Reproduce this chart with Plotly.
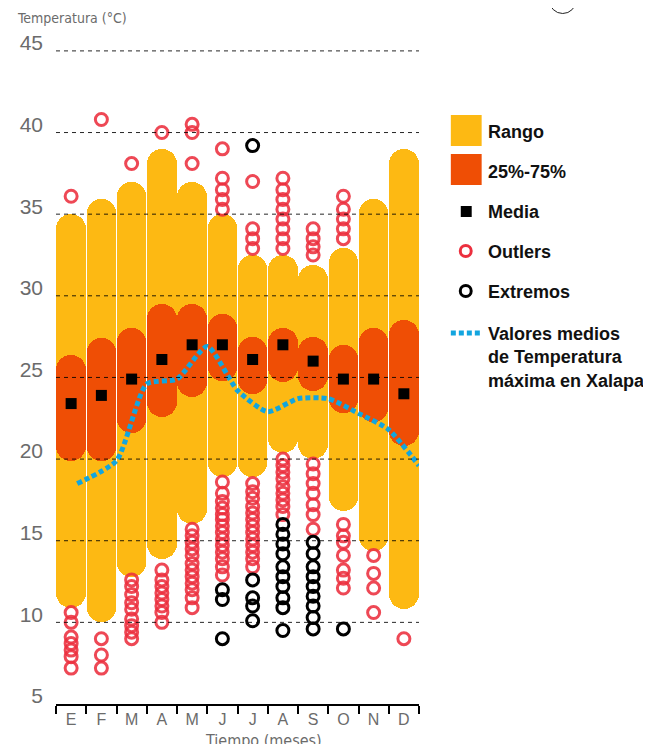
import plotly.graph_objects as go

# --- data -----------------------------------------------------------------
meses = ["E", "F", "M", "A", "M", "J", "J", "A", "S", "O", "N", "D"]

rango_min = [10.9, 10.0, 12.8, 13.9, 16.0, 18.9, 18.9, 20.4, 20.0, 16.8, 14.4, 10.8]
rango_max = [35.0, 35.9, 37.0, 39.0, 37.0, 35.0, 32.5, 32.5, 31.9, 32.9, 35.9, 39.0]

q25 = [19.9, 19.9, 21.6, 22.6, 23.8, 24.8, 24.0, 24.7, 24.2, 22.8, 22.3, 20.8]
q75 = [26.4, 27.4, 28.0, 29.5, 29.5, 28.9, 27.5, 28.0, 27.5, 27.0, 28.0, 28.5]

media = [23.4, 23.9, 24.9, 26.1, 27.0, 27.0, 26.1, 27.0, 26.0, 24.9, 24.9, 24.0]

outliers = [
    [36.1, 10.6, 10.0, 9.1, 8.7, 8.3, 7.9, 7.2],
    [40.8, 9.0, 8.0, 7.2],
    [38.1, 12.6, 12.2, 11.7, 11.2, 10.8, 10.2, 9.8, 9.4, 9.0],
    [40.0, 13.2, 12.6, 12.2, 11.8, 11.4, 11.0, 10.6, 10.0],
    [40.5, 40.0, 38.1, 15.7, 15.3, 14.9, 14.5, 14.1, 13.6, 13.2, 12.8, 12.4, 12.0, 11.5, 10.9],
    [39.0, 37.2, 36.5, 35.9, 35.3, 18.6, 17.9, 17.4, 17.0, 16.6, 16.3, 15.9, 15.5, 15.1,
     14.7, 14.3, 13.9, 13.4, 12.9],
    [37.0, 34.1, 33.5, 32.9, 18.5, 18.0, 17.6, 17.1, 16.7, 16.3, 15.9, 15.5, 15.1, 14.7,
     14.3, 13.9, 13.4],
    [37.2, 36.5, 35.9, 35.3, 34.7, 34.1, 33.5, 32.9, 20.0, 19.6, 19.2, 18.8, 18.3, 17.9,
     17.5, 17.1, 16.6],
    [34.1, 33.5, 33.0, 32.5, 19.7, 19.1, 18.5, 17.9, 17.2, 16.6, 15.7],
    [36.1, 35.3, 34.7, 34.1, 33.5, 16.0, 15.3, 14.9, 14.1, 13.2, 12.7, 12.1],
    [14.1, 13.0, 12.1, 10.6],
    [9.0],
]

extremos = [
    [], [], [], [], [],
    [12.0, 11.4, 9.0],
    [39.2, 12.6, 11.5, 11.0, 10.1],
    [16.0, 15.4, 14.8, 14.2, 13.4, 12.8, 12.2, 11.5, 10.9, 9.5],
    [14.9, 14.2, 13.4, 12.8, 12.2, 11.6, 11.0, 10.3, 9.6],
    [9.6],
    [], [],
]

# valores medios de temperatura maxima en Xalapa
medios_pos = [0.2, 1.5, 2.5, 3.5, 4.5, 5.5, 6.5, 7.5, 8.5, 9.5, 10.5, 11.5]
medios = [18.5, 19.9, 24.6, 24.9, 26.9, 24.2, 22.9, 23.7, 23.7, 22.8, 21.8, 19.6]

y_ticks = [5, 10, 15, 20, 25, 30, 35, 40, 45]

# --- styles ---------------------------------------------------------------
AMARILLO = "#FDB913"
NARANJA = "#EF4E05"
ROJO = "#EC2F3E"
AZUL = "#12A5DF"
GRIS = "#6b6b6b"
FONT = "Liberation Sans, Arial, sans-serif"
NARROW = "Liberation Sans Narrow, DejaVu Sans Condensed, Arial Narrow, sans-serif"

# the page body adds an 8px margin, so the figure is drawn 8px smaller
OFF = 8
W, H = 651 - OFF, 744 - OFF
# plot box in screen pixels
L, R, T, B = 54, 419, 46, 704


def px(x):
    return (x - L) / (R - L)


def py(y):
    return (B - y) / (B - T)


idx = list(range(len(meses)))
fig = go.Figure()

# capsules: bars with a base get both ends rounded
fig.add_trace(go.Bar(
    x=idx, y=[h - l for h, l in zip(rango_max, rango_min)], base=rango_min,
    width=0.98, marker=dict(color=AMARILLO, line_width=0, cornerradius="50%"),
    showlegend=False, hoverinfo="skip"))
fig.add_trace(go.Bar(
    x=idx, y=[h - l for h, l in zip(q75, q25)], base=q25,
    width=0.98, marker=dict(color=NARANJA, line_width=0, cornerradius="50%"),
    showlegend=False, hoverinfo="skip"))

# outliers / extremos
ox, oy = [], []
for i, vals in enumerate(outliers):
    ox += [i] * len(vals)
    oy += vals
ex, ey = [], []
for i, vals in enumerate(extremos):
    ex += [i] * len(vals)
    ey += vals

fig.add_trace(go.Scatter(
    x=ox, y=oy, mode="markers",
    marker=dict(symbol="circle-open", size=12, color=ROJO, opacity=0.88,
                line=dict(width=3, color=ROJO)),
    showlegend=False))
fig.add_trace(go.Scatter(
    x=ex, y=ey, mode="markers",
    marker=dict(symbol="circle-open", size=12, color="black",
                line=dict(width=3, color="black")),
    showlegend=False))

fig.add_trace(go.Scatter(
    x=idx, y=media, mode="markers",
    marker=dict(symbol="square", size=11, color="black", line_width=0),
    showlegend=False))

fig.add_trace(go.Scatter(
    x=medios_pos, y=medios, mode="lines",
    line=dict(color=AZUL, width=5, dash="5px,3px", shape="spline", smoothing=0.6),
    showlegend=False))

# dashed grid drawn over the bars
for v in y_ticks[1:]:
    fig.add_shape(type="line", xref="x", yref="y", x0=-0.5, x1=11.5, y0=v, y1=v,
                  line=dict(color="rgba(0,0,0,0.85)", width=1, dash="4px,4px"),
                  layer="above")


# --- legend (drawn by hand) ---------------------------------------------
def rect(x0, y0, x1, y1, color):
    fig.add_shape(type="rect", xref="paper", yref="paper",
                  x0=px(x0), x1=px(x1), y0=py(y1), y1=py(y0),
                  fillcolor=color, line_width=0)


def ring(cx, cy, color):
    fig.add_shape(type="circle", xref="paper", yref="paper",
                  x0=px(cx - 5.5), x1=px(cx + 5.5), y0=py(cy + 5.5), y1=py(cy - 5.5),
                  line=dict(color=color, width=3))


rect(451, 115, 482, 146, AMARILLO)
rect(451, 154, 482, 185, NARANJA)
rect(461, 206, 472, 217, "black")
ring(466, 251, ROJO)
ring(466, 291, "black")
fig.add_shape(type="line", xref="paper", yref="paper",
              x0=px(451), x1=px(481), y0=py(333), y1=py(333),
              line=dict(color=AZUL, width=5, dash="5px,3px"))

legend_items = [("Rango", 132), ("25%-75%", 172), ("Media", 212),
                ("Outlers", 252), ("Extremos", 292)]
for txt, yy in legend_items:
    fig.add_annotation(text=f"<b>{txt}</b>", xref="paper", yref="paper",
                       x=px(486), y=py(yy), xanchor="left", yanchor="middle",
                       showarrow=False, font=dict(family=FONT, size=18, color="#111"))
fig.add_annotation(
    text="<b>Valores medios<br>de Temperatura<br>máxima en Xalapa</b>",
    xref="paper", yref="paper", x=px(486), y=py(358), xanchor="left",
    yanchor="middle", align="left", showarrow=False,
    font=dict(family=FONT, size=18, color="#111"))

# axis titles
fig.add_annotation(text="Temperatura (°C)", xref="paper", yref="paper",
                   x=px(13), y=py(18), xanchor="left", yanchor="middle",
                   showarrow=False, font=dict(family=NARROW, size=14, color=GRIS))
fig.add_annotation(text="Tiempo (meses)", xref="paper", yref="paper",
                   x=px(263), y=py(740), xanchor="center", yanchor="middle",
                   showarrow=False, font=dict(family=NARROW, size=16, color=GRIS))

# circled "a" at the top, mostly cut by the page edge
fig.add_shape(type="circle", xref="paper", yref="paper",
              x0=px(550), x1=px(577), y0=py(13.5), y1=py(-13.5),
              line=dict(color="#222", width=1))

fig.update_layout(
    width=W, height=H,
    margin=dict(l=L - OFF, r=651 - R, t=T - OFF, b=744 - B),
    plot_bgcolor="white", paper_bgcolor="white",
    barmode="overlay", bargap=0,
    showlegend=False,
    xaxis=dict(
        range=[-0.5, 11.5], tickmode="array", tickvals=idx, ticktext=meses,
        ticks="", showgrid=False, zeroline=False,
        showline=True, linecolor="black", linewidth=1.5,
        tickfont=dict(family=FONT, size=16, color=GRIS),
        minor=dict(tickmode="array", tickvals=[i - 0.5 for i in range(13)],
                   ticks="outside", ticklen=8, tickcolor="black", tickwidth=1.5,
                   showgrid=False),
    ),
    yaxis=dict(
        range=[5, 45.3], tickmode="array", tickvals=y_ticks,
        showgrid=False, zeroline=False, showline=False, ticks="",
        ticklabelshift=-8, ticklabelstandoff=12,
        tickfont=dict(family=FONT, size=21, color=GRIS),
    ),
)

fig.write_html("out.html")
